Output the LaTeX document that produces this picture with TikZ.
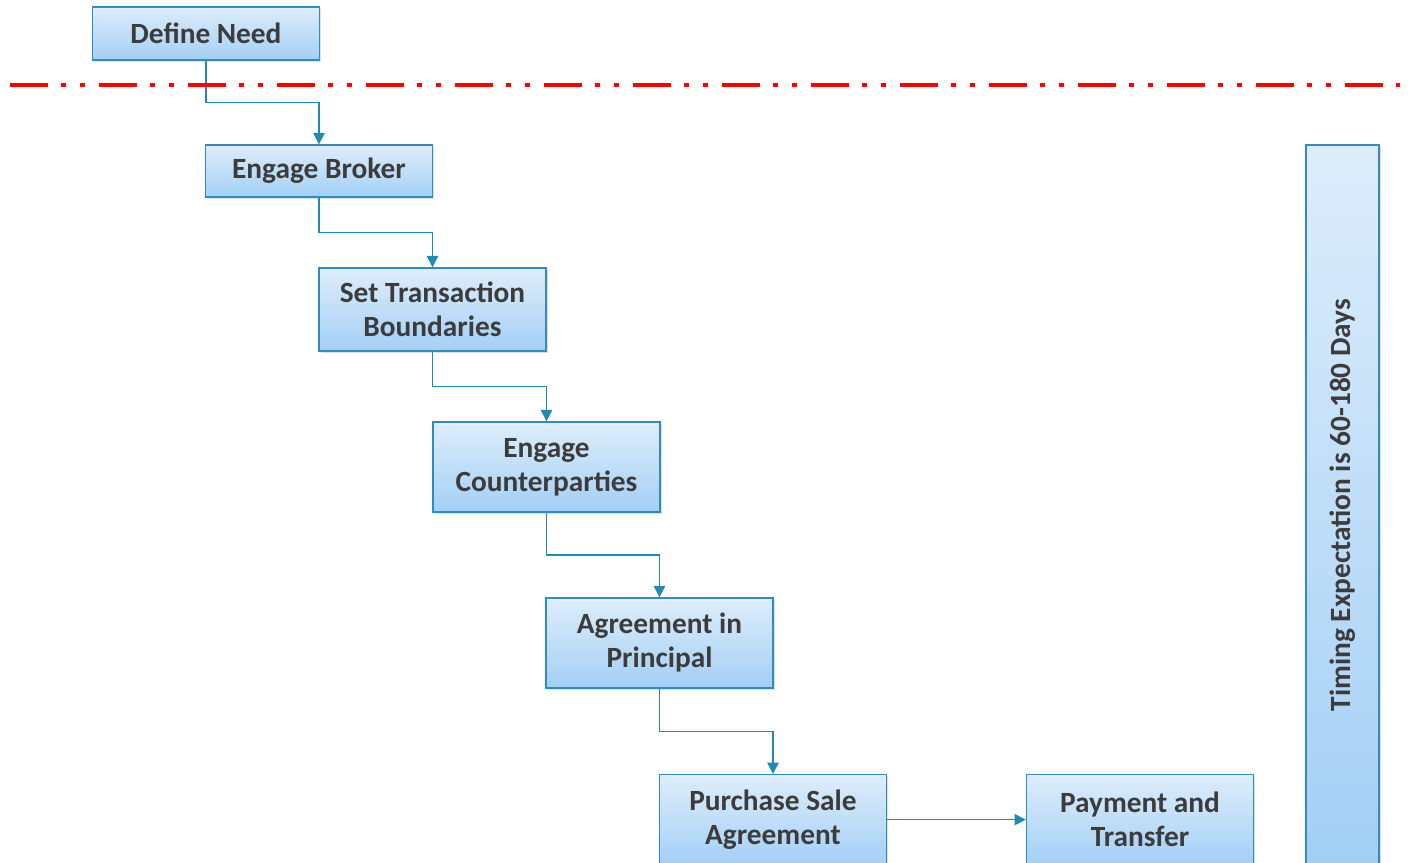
\documentclass[tikz,border=0pt]{standalone}
\usepackage{fontspec}
\setmainfont{Carlito}
\usetikzlibrary{arrows.meta,calc,shadows}

\definecolor{boxline}{RGB}{46,140,192}
\definecolor{linkcol}{RGB}{31,138,180}
\definecolor{boxtop}{RGB}{222,237,251}
\definecolor{boxbot}{RGB}{163,207,245}
\definecolor{txt}{RGB}{60,60,60}

\begin{document}
\begin{tikzpicture}[x=0.75pt,y=0.75pt,
    stepbox/.style={draw=boxline,line width=1pt,top color=boxtop,bottom color=boxbot,
        drop shadow={shadow xshift=1.2pt,shadow yshift=-1.2pt,opacity=0.25},
        text=txt,font=\bfseries\fontsize{22}{25.5}\selectfont,align=center,
        minimum width=170.25pt,inner sep=0pt},
    link/.style={draw=linkcol,line width=1pt,-{Triangle[length=8.5pt,width=8.5pt]}}]

    \useasboundingbox (0,0) rectangle (1410,863);
    \clip (0,0) rectangle (1410,863);

    % steps
    \node[stepbox,minimum height=39.75pt] (need) at (206,829.5) {Define Need};
    \node[stepbox,minimum height=39pt] (broker) at (319,692) {Engage Broker};
    \node[stepbox,minimum height=62.25pt] (bounds) at (432.5,553.5) {Set Transaction\\Boundaries};
    \node[stepbox,minimum height=67.5pt] (parties) at (546.5,396) {Engage\\Counterparties};
    \node[stepbox,minimum height=67.5pt] (aip) at (659.5,220) {Agreement in\\Principal};
    \node[stepbox,minimum height=67.5pt,anchor=north] (psa) at (773,89) {Purchase Sale\\Agreement};
    \node[stepbox,minimum height=67.5pt,anchor=north] (pay) at (1140,89) {Payment and\\Transfer};

    % timing bar
    \node[stepbox,rotate=90,minimum width=540pt,minimum height=54.75pt] (timing) at (1342.5,358)
        {Timing Expectation is 60-180 Days};

    \foreach \a/\b in {need/broker,broker/bounds,bounds/parties,parties/aip,aip/psa}
        \draw[link] (\a.south) |- ($(\a.south)!0.5!(\b.north)$) -| (\b.north);
    \draw[link] (psa.east) -- (pay.west);

    % cut-off line
    \coordinate (cutl) at (10,778);
    \coordinate (cutr) at (1400,778);
    \draw[red,line width=3pt,dash pattern=on 28.5pt off 9.75pt on 3.75pt off 10.5pt on 3.75pt off 10.5pt] (cutl) -- (cutr);
\end{tikzpicture}
\end{document}
